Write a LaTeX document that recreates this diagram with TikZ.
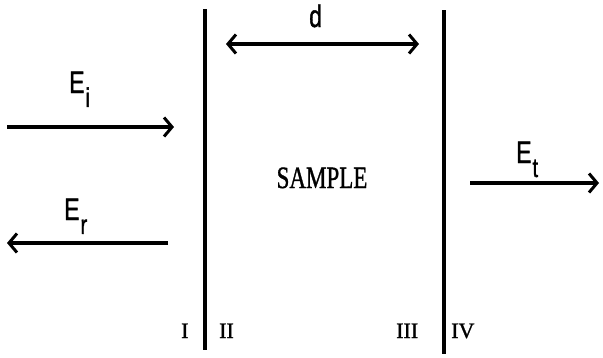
\documentclass[tikz,border=0pt]{standalone}
\usepackage{fontspec}
\usepackage{graphicx}
\setmainfont{Liberation Serif}[FakeBold=1.2]
\newfontfamily\labfont{Liberation Sans}[FakeBold=1.5]
\usetikzlibrary{arrows.meta}
\newcommand{\tall}[1]{\scalebox{1}[1.35]{#1}}
\newcommand{\esub}[2]{\tall{\labfont\fontsize{23}{23}\selectfont #1\hspace{1pt}\raisebox{-0.45em}{\fontsize{20}{20}\selectfont #2}}}
\tikzset{
  wall/.style={line width=3.5pt},
  ray/.style={line width=4pt, -{Straight Barb[length=8pt,width=19pt,line width=3pt]}},
  dray/.style={line width=4pt, {Straight Barb[length=8pt,width=19pt,line width=3pt]}-{Straight Barb[length=8pt,width=19pt,line width=3pt]}},
  lab/.style={inner sep=0pt, anchor=base west},
  num/.style={inner sep=0pt, anchor=base west, font=\fontsize{22}{22}\selectfont},
}
\begin{document}
\begin{tikzpicture}[x=1pt,y=-1pt]
\useasboundingbox (0,0) rectangle (603,357);
% walls
\coordinate (w1t) at (205,9);
\coordinate (w1b) at (205,350);
\coordinate (w2t) at (444,10);
\coordinate (w2b) at (444,354);
\draw[wall] (w1t) -- (w1b);
\draw[wall] (w2t) -- (w2b);
% arrows
\coordinate (ia) at (7,127);
\coordinate (ib) at (174,127);
\draw[ray] (ia) -- (ib);
\coordinate (ra) at (168,243);
\coordinate (rb) at (7,243);
\draw[ray] (ra) -- (rb);
\coordinate (ta) at (470,183);
\coordinate (tb) at (599,183);
\draw[ray] (ta) -- (tb);
\coordinate (da) at (226,44);
\coordinate (db) at (419,44);
\draw[dray] (da) -- (db);
% labels
\node[lab] (Ei) at (69,93) {\esub{E}{i}};
\node[lab] (Er) at (64,220) {\esub{E}{r}};
\node[lab] (Et) at (516,163) {\esub{E}{t}};
\node[lab] (d) at (309,27) {\tall{\labfont\fontsize{23}{23}\selectfont d}};
\node[inner sep=0pt, anchor=base] (s) at (322,188) {\tall{\fontsize{23}{23}\selectfont SAMPLE}};
\node[num] (n1) at (181,338) {I};
\node[num] (n2) at (219,338) {II};
\node[num] (n3) at (396,338) {III};
\node[num] (n4) at (451,338) {IV};
\end{tikzpicture}
\end{document}
